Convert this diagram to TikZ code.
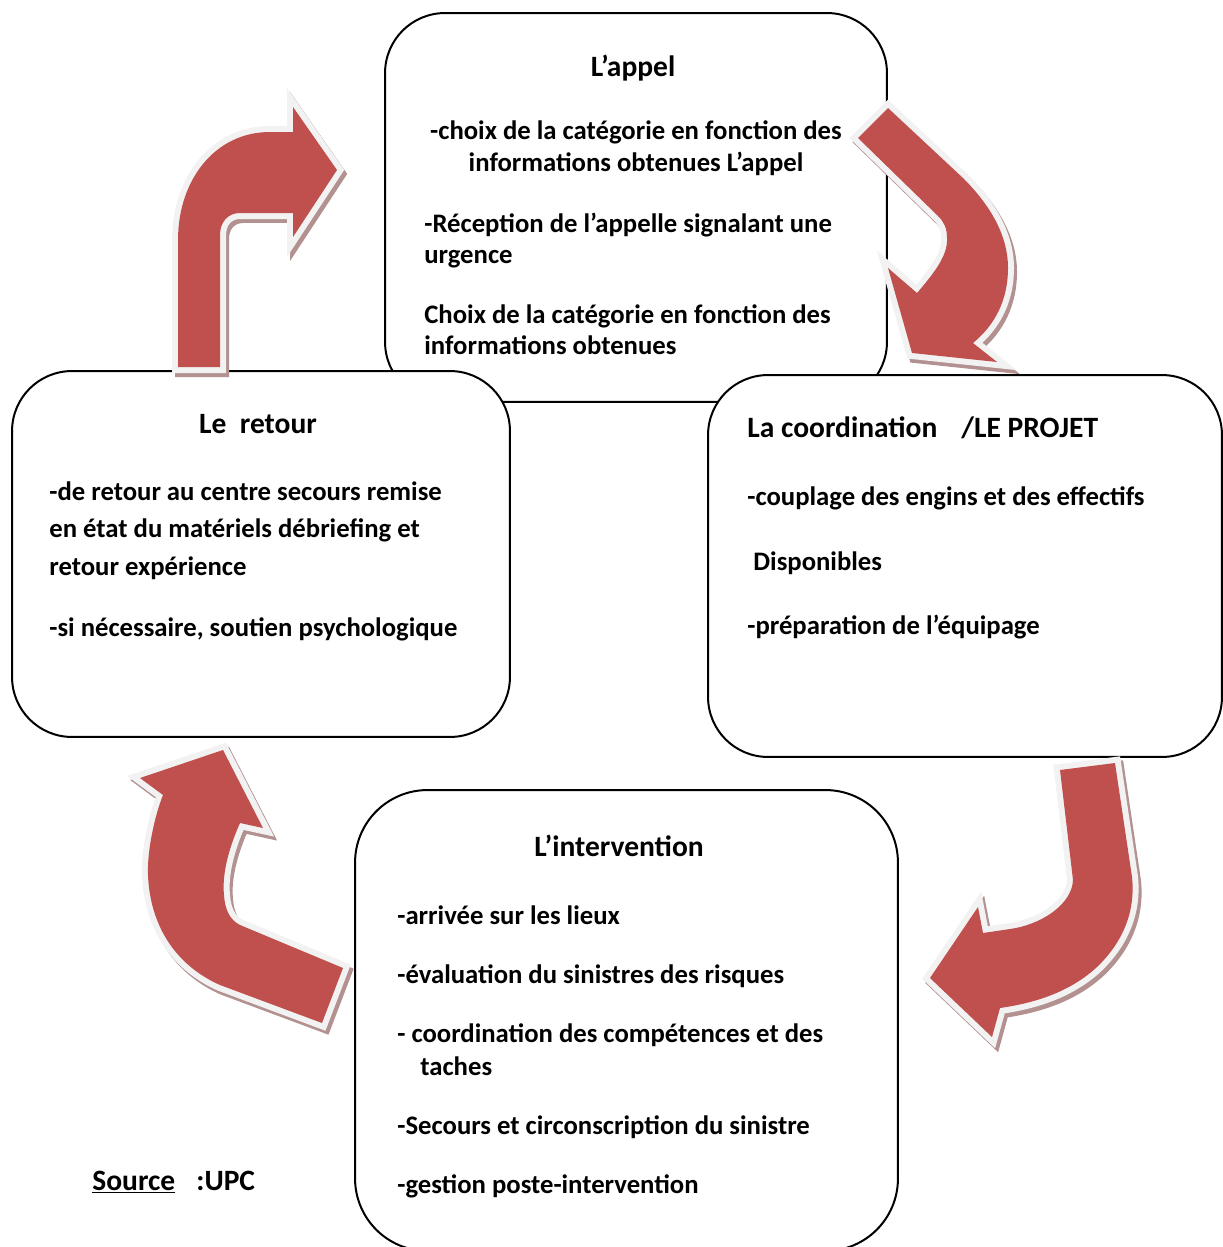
\documentclass[tikz,border=0pt]{standalone}
\usepackage{fontspec}
\setmainfont{Carlito}
\usetikzlibrary{positioning}
\definecolor{arrowred}{HTML}{C0504D}
\definecolor{rim}{HTML}{F2F2F2}
\definecolor{shade}{HTML}{B39191}

\begin{document}
\begin{tikzpicture}[
    x=0.02cm, y=-0.02cm,
    stage/.style={draw=black, line width=0.04cm, fill=white, rounded corners=1.2cm, inner sep=0pt},
    txt/.style={anchor=base west, inner sep=0pt, font=\bfseries\fontsize{15.2}{18}\selectfont},
    big/.style={txt, font=\bfseries\fontsize{16.8}{20}\selectfont},
    head/.style={big, anchor=base},
    bent/.style={fill=arrowred, line join=miter,
      preaction={draw=shade, fill=shade, line width=0.24cm, transform canvas={shift={(0.06cm,-0.08cm)}}},
      preaction={draw=rim, fill=rim, line width=0.24cm}}
  ]
  \useasboundingbox (0,0) rectangle (1223,1247);
  \clip (0,0) rectangle (1223,1247);

  % the four stages
  \node[stage, minimum width=10.04cm, minimum height=7.78cm] (appel) at (636,207.5) {};
  \node[stage, minimum width=9.96cm, minimum height=7.32cm] (retour) at (261,554) {};
  \node[stage, minimum width=10.28cm, minimum height=7.64cm] (coord) at (965,566) {};
  \node[stage, minimum width=10.86cm, minimum height=9.22cm, rounded corners=1.45cm] (inter) at (626.5,1020.5) {};

  % texts
  \node[head] (appelT) at (633,77) {L’appel};
  \node[head] (appelA) at (636,139) {\fontsize{15.2}{18}\selectfont -choix de la catégorie en fonction des};
  \node[head] (appelB) at (636,171) {\fontsize{15.2}{18}\selectfont informations obtenues L’appel};
  \node[txt] (appelC) at (424,232) {-Réception de l’appelle signalant une};
  \node[txt] (appelD) at (424,263) {urgence};
  \node[txt] (appelE) at (424,323) {Choix de la catégorie en fonction des};
  \node[txt] (appelF) at (424,354) {informations obtenues};

  \node[head] (retourT) at (258,433) {Le\ \ retour};
  \node[txt] (retourA) at (49,500) {-de retour au centre secours remise};
  \node[txt] (retourB) at (49,537) {en état du matériels débriefing et};
  \node[txt] (retourC) at (49,575) {retour expérience};
  \node[txt] (retourD) at (49,636) {-si nécessaire, soutien psychologique};

  \node[big] (coordT) at (747,437) {La coordination};
  \node[big] (coordP) at (961,437) {/LE PROJET};
  \node[txt] (coordA) at (747,505) {-couplage des engins et des effectifs};
  \node[txt] (coordB) at (753,570) {Disponibles};
  \node[txt] (coordC) at (747,634) {-préparation de l’équipage};

  \node[head] (interT) at (619,856) {L’intervention};
  \node[txt] (interA) at (397,924) {-arrivée sur les lieux};
  \node[txt] (interB) at (397,983) {-évaluation du sinistres des risques};
  \node[txt] (interC) at (397,1042) {- coordination des compétences et des};
  \node[txt] (interD) at (420,1075) {taches};
  \node[txt] (interE) at (397,1134) {-Secours et circonscription du sinistre};
  \node[txt] (interF) at (397,1193) {-gestion poste-intervention};

  \node[big] (src) at (92,1190) {\underline{Source}};
  \node[big] (upc) at (196,1190) {:UPC};

  % bent arrows between the stages
  \path[bent] (178,367) -- (178,240) .. controls (178,180) and (215,132) .. (270,132)
    -- (293,132) -- (293,107) -- (337,170) -- (293,237) -- (293,213) -- (240,213)
    .. controls (228,213) and (220,222) .. (220,235) -- (220,367) -- cycle;
  \path[bent] (858,138) -- (888,108) -- (963,178) .. controls (990,205) and (1008,235) .. (1008,268)
    .. controls (1008,300) and (995,325) .. (973,343) -- (997,362) -- (912,353) -- (888,268)
    -- (917,293) .. controls (935,272) and (948,255) .. (947,238)
    .. controls (947,228) and (944,222) .. (938,216) -- cycle;
  \path[bent] (1060,770) -- (1115,763) -- (1132,877) .. controls (1136,915) and (1120,945) .. (1097,967)
    .. controls (1070,992) and (1035,1003) .. (1000,1008) -- (992,1037) -- (930,978) -- (978,907)
    -- (983,933) -- (1010,929) .. controls (1040,925) and (1072,905) .. (1073,880) -- cycle;
  \path[bent] (343,968) -- (322,1023) -- (220,985) .. controls (175,965) and (150,925) .. (148,875)
    .. controls (147,850) and (155,815) .. (163,795) -- (140,778) -- (223,750) -- (263,828)
    -- (240,823) .. controls (228,850) and (222,875) .. (224,895)
    .. controls (225,910) and (230,920) .. (240,925) -- cycle;
\end{tikzpicture}
\end{document}
